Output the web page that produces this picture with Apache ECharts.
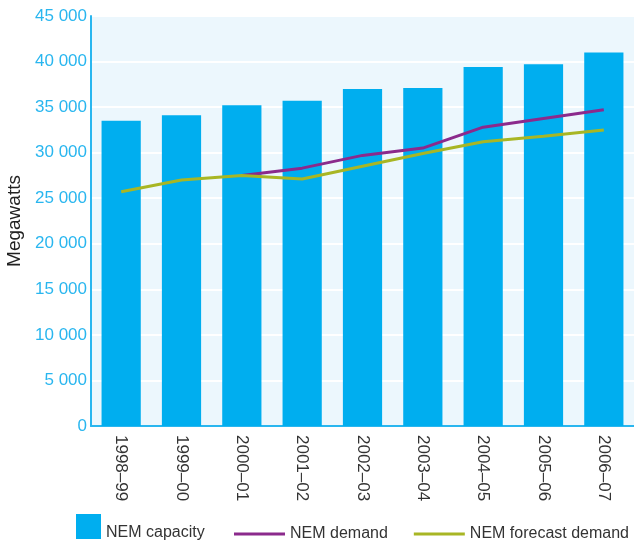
<!DOCTYPE html>
<html lang="en">
<head>
    <meta charset="utf-8">
    <title>NEM capacity and demand</title>
    <script src="https://cdn.jsdelivr.net/npm/echarts@6/dist/echarts.min.js"></script>
    <style>
        html, body { margin: 0; padding: 0; background: #fff; }
        #chart { width: 634px; height: 542px; }
    </style>
</head>
<body>
    <div id="chart"></div>
    <script>
        // data (megawatts)
        var years = ['1998–99', '1999–00', '2000–01', '2001–02', '2002–03', '2003–04', '2004–05', '2005–06', '2006–07'];
        var capacity = [33500, 34100, 35200, 35700, 37000, 37100, 39400, 39700, 41000];
        var demand = ['-', '-', 27500, 28300, 29700, 30500, 32800, 33750, 34700];
        var forecast = [25700, 27000, 27500, 27100, 28500, 29900, 31200, 31800, 32500];

        var font = '"Liberation Sans", Arial, sans-serif';
        var axisBlue = '#29b6ef';

        function spaced(v) {
            return String(v).replace(/\B(?=(\d{3})+(?!\d))/g, ' ');
        }

        var chart = echarts.init(document.getElementById('chart'));

        var option = {
            animation: false,
            textStyle: { fontFamily: font },
            grid: {
                left: 91, right: 0, top: 16, bottom: 116,
                outerBoundsMode: 'none',
                show: true, backgroundColor: '#ecf7fd', borderWidth: 0
            },
            legend: [
                {
                    left: 76, top: 514, padding: 0,
                    itemWidth: 25, itemHeight: 25,
                    icon: 'rect',
                    data: ['NEM capacity'],
                    formatter: '{low|{name}}',
                    textStyle: {
                        fontFamily: font, fontSize: 16, color: '#333',
                        rich: { low: { fontFamily: font, fontSize: 16, color: '#333', padding: [12, 0, 0, 0] } }
                    }
                },
                {
                    left: 234, top: 526, padding: 0,
                    width: 440,
                    itemWidth: 51, itemHeight: 3,
                    itemGap: 26,
                    icon: 'rect',
                    data: ['NEM demand', 'NEM forecast demand'],
                    textStyle: { fontFamily: font, fontSize: 16, color: '#333' }
                }
            ],
            xAxis: {
                type: 'category',
                data: years,
                axisTick: { show: false },
                axisLine: { lineStyle: { color: axisBlue, width: 2 } },
                axisLabel: {
                    rotate: -90,
                    margin: 9,
                    fontSize: 17,
                    color: '#333'
                }
            },
            yAxis: {
                type: 'value',
                min: 0, max: 45000, interval: 5000,
                name: 'Megawatts',
                nameLocation: 'middle',
                nameGap: 60,
                nameTextStyle: { fontFamily: font, fontSize: 19, color: '#222' },
                axisLine: { show: true, lineStyle: { color: axisBlue, width: 2 } },
                axisTick: { show: false },
                splitLine: { lineStyle: { color: '#ffffff', width: 2 } },
                axisLabel: {
                    margin: 4,
                    fontSize: 17,
                    color: axisBlue,
                    formatter: spaced
                }
            },
            series: [
                {
                    name: 'NEM capacity',
                    type: 'bar',
                    data: capacity,
                    barWidth: '65%',
                    itemStyle: { color: '#00aeef' }
                },
                {
                    name: 'NEM demand',
                    type: 'line',
                    data: demand,
                    symbol: 'none',
                    lineStyle: { color: '#8b2a8c', width: 3 },
                    itemStyle: { color: '#8b2a8c' }
                },
                {
                    name: 'NEM forecast demand',
                    type: 'line',
                    data: forecast,
                    symbol: 'none',
                    lineStyle: { color: '#a8b624', width: 3 },
                    itemStyle: { color: '#a8b624' }
                }
            ]
        };

        chart.setOption(option);
    </script>
</body>
</html>
